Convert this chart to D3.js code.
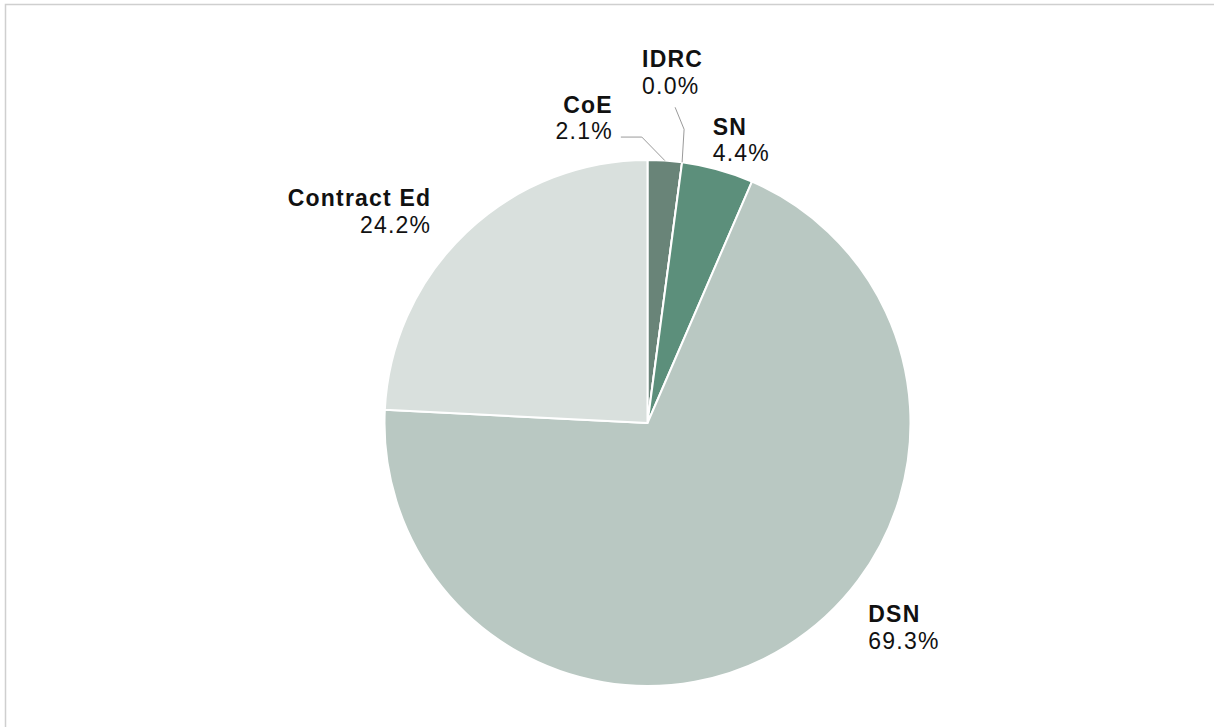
<!DOCTYPE html>
<html>
<head>
<meta charset="utf-8">
<script src="https://cdn.jsdelivr.net/npm/d3@7"></script>
<style>
  html, body { margin: 0; padding: 0; background: #fff; }
  svg { display: block; }
  text { font-family: "Liberation Sans", Arial, Helvetica, sans-serif; font-size: 23px; fill: #111; letter-spacing: 1.2px; }
</style>
</head>
<body>
<svg id="chart" width="1214" height="727"></svg>
<script>
// Data
const categories = ["CoE", "IDRC", "SN", "DSN", "Contract Ed"];
const values = [2.1, 0.0, 4.4, 69.3, 24.2];
const labels = ["2.1%", "0.0%", "4.4%", "69.3%", "24.2%"];
const colors = ["#698478", "#7f9a8f", "#5c8f7b", "#b9c8c2", "#d9e0dd"];

// Layout (not data)
const W = 1214, H = 727;
const cx = 647.5, cy = 423, R = 263;
// label placement relative to slice outer-edge midpoint
const labelPlace = {
  "CoE":         { dx: -52, dy: -48, anchor: "end",   leader: [[-23, -23.5], [-44, -23.5]] },
  "IDRC":        { dx: -40, dy: -95, anchor: "start", leader: [[2, -33], [-7, -55]] },
  "SN":          { dx: -5,  dy: -35, anchor: "start", leader: null },
  "DSN":         { dx: 82,  dy: -24, anchor: "start", leader: null },
  "Contract Ed": { dx: -35, dy: -26, anchor: "end",   leader: null }
};

const svg = d3.select("#chart");

// frame
svg.append("path")
  .attr("d", `M5.5,${H + 5} V4.5 H${W + 5}`)
  .attr("fill", "none").attr("stroke", "#cfcfcf").attr("stroke-width", 1.5);

const data = categories.map((c, i) => ({ cat: c, value: values[i], label: labels[i], color: colors[i] }));

const pie = d3.pie().sort(null).value(d => d.value).startAngle(0).endAngle(2 * Math.PI);
const arcs = pie(data);
const arc = d3.arc().innerRadius(0).outerRadius(R);

const g = svg.append("g").attr("transform", `translate(${cx},${cy})`);

g.selectAll("path.slice")
  .data(arcs)
  .join("path")
  .attr("class", "slice")
  .attr("d", arc)
  .attr("fill", d => d.data.color)
  .attr("stroke", "#fff")
  .attr("stroke-width", 2)
  .attr("stroke-linejoin", "round");

function edgePoint(d) {
  const a = (d.startAngle + d.endAngle) / 2;
  return [R * Math.sin(a), -R * Math.cos(a)];
}

// leaders
arcs.forEach(d => {
  const p = labelPlace[d.data.cat];
  if (!p.leader) return;
  const e = edgePoint(d);
  const pts = [e].concat(p.leader.map(o => [e[0] + o[0], e[1] + o[1]]));
  g.append("path")
    .attr("d", d3.line()(pts))
    .attr("fill", "none")
    .attr("stroke", "#9a9a9a")
    .attr("stroke-width", 1);
});

// labels
arcs.forEach(d => {
  const p = labelPlace[d.data.cat];
  const e = edgePoint(d);
  const x = e[0] + p.dx, y = e[1] + p.dy;
  const t = g.append("text")
    .attr("x", x).attr("y", y)
    .attr("text-anchor", p.anchor);
  t.append("tspan").attr("x", x).attr("font-weight", "bold").text(d.data.cat);
  t.append("tspan").attr("x", x).attr("dy", 26.5).text(d.data.label);
});
</script>
</body>
</html>
